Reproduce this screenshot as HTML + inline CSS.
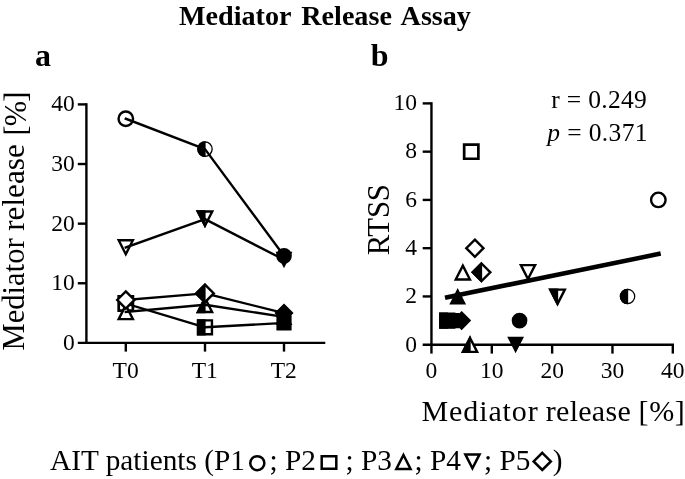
<!DOCTYPE html>
<html lang="en">
<head>
<meta charset="utf-8">
<title>Mediator Release Assay</title>
<style>
html,body{margin:0;padding:0;background:#fff;}
body{width:685px;height:479px;overflow:hidden;}
svg{display:block;}
</style>
</head>
<body>
<svg width="685" height="479" viewBox="0 0 685 479">
<rect width="685" height="479" fill="#fff"/>
<g font-family="'Liberation Serif', 'Times New Roman', serif" fill="#000">
<text x="179.0" y="24.5" font-size="28.15" font-weight="bold" word-spacing="3.2">Mediator Release Assay</text>
<text x="35" y="65.5" font-size="32" font-weight="bold">a</text>
<text x="370.7" y="65.5" font-size="32" font-weight="bold">b</text>
<text transform="translate(24.2 0) rotate(-90)" font-size="30.5"><tspan x="-350.4" textLength="112" lengthAdjust="spacing">Mediator</tspan> <tspan x="-230.8" textLength="86.6" lengthAdjust="spacingAndGlyphs">release</tspan> <tspan x="-135.5" dy="2.2" textLength="44" lengthAdjust="spacing">[%]</tspan></text>
<text transform="translate(389.3 255.2) rotate(-90)" font-size="30.8" textLength="71.2" lengthAdjust="spacing">RTSS</text>
<text y="421.2" font-size="30"><tspan x="421.45" textLength="116.3" lengthAdjust="spacing">Mediator</tspan> <tspan x="545.75" textLength="85" lengthAdjust="spacing">release</tspan> <tspan x="638.5" textLength="46.3" lengthAdjust="spacing">[%]</tspan></text>
<text x="551.3" y="108" font-size="25.5" textLength="95.5" lengthAdjust="spacing">r = 0.249</text>
<text x="547.3" y="141.1" font-size="25.5" textLength="100.3" lengthAdjust="spacing"><tspan font-style="italic">p</tspan> = 0.371</text>
<g font-size="23.5">
<text x="74.8" y="349.8" text-anchor="end">0</text>
<text x="74.8" y="290.17" text-anchor="end">10</text>
<text x="74.8" y="230.55" text-anchor="end">20</text>
<text x="74.8" y="170.92" text-anchor="end">30</text>
<text x="74.8" y="111.3" text-anchor="end">40</text>
<text x="125.6" y="377.6" text-anchor="middle">T0</text>
<text x="204.8" y="377.6" text-anchor="middle">T1</text>
<text x="283.8" y="377.6" text-anchor="middle">T2</text>
<text x="417" y="351.5" text-anchor="end">0</text>
<text x="417" y="303.24" text-anchor="end">2</text>
<text x="417" y="254.98" text-anchor="end">4</text>
<text x="417" y="206.72" text-anchor="end">6</text>
<text x="417" y="158.46" text-anchor="end">8</text>
<text x="417" y="110.2" text-anchor="end">10</text>
<text x="431.45" y="378" text-anchor="middle">0</text>
<text x="491.79" y="378" text-anchor="middle">10</text>
<text x="552.13" y="378" text-anchor="middle">20</text>
<text x="612.47" y="378" text-anchor="middle">30</text>
<text x="672.81" y="378" text-anchor="middle">40</text>
</g>
<g font-size="29.3">
<text x="50.1" y="470.0">AIT patients (P1</text>
<text x="269.5" y="470.0">; P2</text>
<text x="345.6" y="470.0">; P3</text>
<text x="414.6" y="470.0">; P4</text>
<text x="484.1" y="470.0">; P5</text>
<text x="552.7" y="470.0">)</text>
</g>
</g>
<g fill="none" stroke="#000" stroke-width="2.5">
<path d="M250.25 463.2A7.05 7.05 0 1 0 264.35 463.2A7.05 7.05 0 1 0 250.25 463.2Z"/>
<path d="M321.7 456.2H336.3V468.8H321.7Z"/>
<path d="M403.45 455L410.55 468.9L396.35 468.9Z"/>
<path d="M472.45 468.3L479.55 454.4L465.35 454.4Z"/>
<path d="M542.25 452.8L550.85 461.4L542.25 470L533.65 461.4Z"/>
</g>
<g fill="none" stroke="#000" stroke-width="2.4">
<path d="M86.4 103.2V342.9"/>
<path d="M77.8 342.9H325.3"/>
<path d="M77.8 283.27H86.4"/>
<path d="M77.8 223.65H86.4"/>
<path d="M77.8 164.02H86.4"/>
<path d="M77.8 104.4H86.4"/>
<path d="M125.8 342.9V351.6"/>
<path d="M205 342.9V351.6"/>
<path d="M284 342.9V351.6"/>
<path d="M431.45 102.2V353.6"/>
<path d="M422.7 344.7H674.01"/>
<path d="M422.7 296.44H431.45"/>
<path d="M422.7 248.18H431.45"/>
<path d="M422.7 199.92H431.45"/>
<path d="M422.7 151.66H431.45"/>
<path d="M422.7 103.4H431.45"/>
<path d="M491.79 344.7V353.6"/>
<path d="M552.13 344.7V353.6"/>
<path d="M612.47 344.7V353.6"/>
<path d="M672.81 344.7V353.6"/>
</g>
<path d="M118.55 118.71A7.25 7.25 0 1 0 133.05 118.71A7.25 7.25 0 1 0 118.55 118.71Z" fill="#fff" stroke="#000" stroke-width="2.4"/>
<clipPath id="c1"><rect x="190" y="134.12" width="15.6" height="30"/></clipPath>
<path d="M197.85 149.12A7.15 7.15 0 1 0 212.15 149.12A7.15 7.15 0 1 0 197.85 149.12Z" fill="#fff" stroke="#000" stroke-width="1.3"/>
<path d="M197.85 149.12A7.15 7.15 0 1 0 212.15 149.12A7.15 7.15 0 1 0 197.85 149.12Z" fill="#000" stroke="#000" stroke-width="1.3" clip-path="url(#c1)"/>
<path d="M276.95 255.85A7.05 7.05 0 1 0 291.05 255.85A7.05 7.05 0 1 0 276.95 255.85Z" fill="#000" stroke="#000" stroke-width="1.6"/>
<path d="M125.8 118.71L205 149.12L284 255.85" fill="none" stroke="#000" stroke-width="2.4" stroke-linejoin="round" stroke-linecap="square"/>
<path d="M118.7 296.45H132.9V310.65H118.7Z" fill="#fff" stroke="#000" stroke-width="2.7"/>
<clipPath id="c2"><rect x="190" y="312.28" width="15.6" height="30"/></clipPath>
<path d="M198.05 320.33H211.95V334.23H198.05Z" fill="#fff" stroke="#000" stroke-width="2.4"/>
<path d="M198.05 320.33H211.95V334.23H198.05Z" fill="#000" stroke="#000" stroke-width="2.4" clip-path="url(#c2)"/>
<path d="M277.2 316.13H290.8V329.73H277.2Z" fill="#000" stroke="#000" stroke-width="1.6"/>
<path d="M125.8 303.55L205 327.28L284 322.93" fill="none" stroke="#000" stroke-width="2.4" stroke-linejoin="round" stroke-linecap="square"/>
<path d="M125.8 305.19L132.9 319.09L118.7 319.09Z" fill="#fff" stroke="#000" stroke-width="2.4"/>
<clipPath id="c3"><rect x="190" y="289.74" width="15.6" height="30"/></clipPath>
<path d="M205 298.04L212.1 311.94L197.9 311.94Z" fill="#fff" stroke="#000" stroke-width="2.4"/>
<path d="M205 298.04L212.1 311.94L197.9 311.94Z" fill="#000" stroke="#000" stroke-width="2.4" clip-path="url(#c3)"/>
<path d="M284 310.26L291.1 324.16L276.9 324.16Z" fill="#000" stroke="#000" stroke-width="1.6"/>
<path d="M125.8 311.89L205 304.74L284 316.96" fill="none" stroke="#000" stroke-width="2.4" stroke-linejoin="round" stroke-linecap="square"/>
<path d="M125.8 254.2L132.9 240.3L118.7 240.3Z" fill="#fff" stroke="#000" stroke-width="2.4"/>
<clipPath id="c4"><rect x="190" y="203.76" width="15.6" height="30"/></clipPath>
<path d="M205 225.68L212.26 211.46L197.74 211.46Z" fill="#fff" stroke="#000" stroke-width="2.4"/>
<path d="M205 225.68L212.26 211.46L197.74 211.46Z" fill="#000" stroke="#000" stroke-width="2.4" clip-path="url(#c4)"/>
<path d="M284 266.42L291.1 252.52L276.9 252.52Z" fill="#000" stroke="#000" stroke-width="1.6"/>
<path d="M125.8 247.5L205 219.06L284 259.72" fill="none" stroke="#000" stroke-width="2.4" stroke-linejoin="round" stroke-linecap="square"/>
<path d="M125.8 299.97L205 293.41L284 313.09" fill="none" stroke="#000" stroke-width="2.4" stroke-linejoin="round" stroke-linecap="square"/>
<path d="M125.8 291.37L134.4 299.97L125.8 308.57L117.2 299.97Z" fill="#fff" stroke="#000" stroke-width="2.4"/>
<clipPath id="c5"><rect x="190" y="278.41" width="15.6" height="30"/></clipPath>
<path d="M205 284.6L213.81 293.41L205 302.22L196.19 293.41Z" fill="#fff" stroke="#000" stroke-width="2.4"/>
<path d="M205 284.6L213.81 293.41L205 302.22L196.19 293.41Z" fill="#000" stroke="#000" stroke-width="2.4" clip-path="url(#c5)"/>
<path d="M284 304.66L292.43 313.09L284 321.52L275.57 313.09Z" fill="#000" stroke="#000" stroke-width="1.6"/>
<path d="M651.08 199.92A7.25 7.25 0 1 0 665.58 199.92A7.25 7.25 0 1 0 651.08 199.92Z" fill="#fff" stroke="#000" stroke-width="2.4"/>
<clipPath id="c6"><rect x="612.55" y="281.44" width="15.6" height="30"/></clipPath>
<path d="M620.4 296.44A7.15 7.15 0 1 0 634.7 296.44A7.15 7.15 0 1 0 620.4 296.44Z" fill="#fff" stroke="#000" stroke-width="1.3"/>
<path d="M620.4 296.44A7.15 7.15 0 1 0 634.7 296.44A7.15 7.15 0 1 0 620.4 296.44Z" fill="#000" stroke="#000" stroke-width="1.3" clip-path="url(#c6)"/>
<path d="M512.5 320.57A7.05 7.05 0 1 0 526.6 320.57A7.05 7.05 0 1 0 512.5 320.57Z" fill="#000" stroke="#000" stroke-width="1.6"/>
<path d="M464.17 144.56H478.37V158.76H464.17Z" fill="#fff" stroke="#000" stroke-width="2.7"/>
<clipPath id="c7"><rect x="432.26" y="305.57" width="15.6" height="30"/></clipPath>
<path d="M440.31 313.62H454.21V327.52H440.31Z" fill="#fff" stroke="#000" stroke-width="2.4"/>
<path d="M440.31 313.62H454.21V327.52H440.31Z" fill="#000" stroke="#000" stroke-width="2.4" clip-path="url(#c7)"/>
<path d="M444.86 313.77H458.46V327.37H444.86Z" fill="#000" stroke="#000" stroke-width="1.6"/>
<path d="M462.83 265.61L469.93 279.51L455.73 279.51Z" fill="#fff" stroke="#000" stroke-width="2.4"/>
<clipPath id="c8"><rect x="455.07" y="329.7" width="15.6" height="30"/></clipPath>
<path d="M470.07 338L477.17 351.9L462.97 351.9Z" fill="#fff" stroke="#000" stroke-width="2.4"/>
<path d="M470.07 338L477.17 351.9L462.97 351.9Z" fill="#000" stroke="#000" stroke-width="2.4" clip-path="url(#c8)"/>
<path d="M457.7 289.74L464.8 303.64L450.6 303.64Z" fill="#000" stroke="#000" stroke-width="1.6"/>
<path d="M527.99 279.01L535.09 265.11L520.89 265.11Z" fill="#fff" stroke="#000" stroke-width="2.4"/>
<clipPath id="c9"><rect x="542.56" y="281.94" width="15.6" height="30"/></clipPath>
<path d="M557.56 303.86L564.82 289.64L550.3 289.64Z" fill="#fff" stroke="#000" stroke-width="2.4"/>
<path d="M557.56 303.86L564.82 289.64L550.3 289.64Z" fill="#000" stroke="#000" stroke-width="2.4" clip-path="url(#c9)"/>
<path d="M515.62 351.4L522.72 337.5L508.52 337.5Z" fill="#000" stroke="#000" stroke-width="1.6"/>
<path d="M474.89 239.58L483.49 248.18L474.89 256.78L466.29 248.18Z" fill="#fff" stroke="#000" stroke-width="2.4"/>
<clipPath id="c10"><rect x="466.53" y="257.31" width="15.6" height="30"/></clipPath>
<path d="M481.53 263.5L490.34 272.31L481.53 281.12L472.72 272.31Z" fill="#fff" stroke="#000" stroke-width="2.4"/>
<path d="M481.53 263.5L490.34 272.31L481.53 281.12L472.72 272.31Z" fill="#000" stroke="#000" stroke-width="2.4" clip-path="url(#c10)"/>
<path d="M461.62 312.14L470.05 320.57L461.62 329L453.19 320.57Z" fill="#000" stroke="#000" stroke-width="1.6"/>
<path d="M445 297.7L660.7 253.6" fill="none" stroke="#000" stroke-width="4.6"/>
</svg>
</body>
</html>
